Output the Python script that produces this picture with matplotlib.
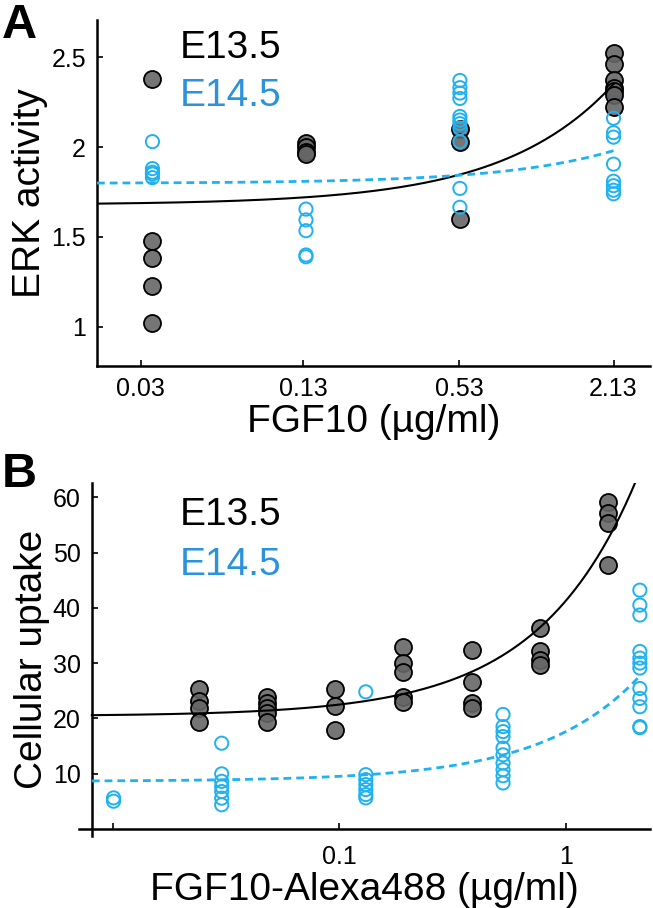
import numpy as np
import matplotlib
matplotlib.use('Agg')
import matplotlib.pyplot as plt

plt.rcParams['font.family'] = ['Liberation Sans', 'DejaVu Sans']

W, H = 653, 908

black_face = (0.4, 0.4, 0.4, 0.9)
blue_mark = '#1fb1f0'
blue_text = '#2b93dc'

# Panel A data: ERK activity vs FGF10 dose
a_doses = [0.0333, 0.133, 0.533, 2.13]
a_ticks = [0.03, 0.13, 0.53, 2.13]
a_e135 = [[2.38, 1.48, 1.385, 1.23, 1.02],
          [2.02, 2.00, 1.97, 1.96],
          [2.10, 2.03, 1.60],
          [2.52, 2.46, 2.37, 2.33, 2.31, 2.29, 2.22]]
a_e145 = [[2.03, 1.88, 1.86, 1.85, 1.83],
          [1.655, 1.595, 1.535, 1.40, 1.39],
          [2.37, 2.33, 2.30, 2.27, 2.17, 2.15, 2.13, 2.105, 2.03, 1.77, 1.665],
          [2.16, 2.08, 2.055, 1.905, 1.81, 1.785, 1.76, 1.74]]
# linear fits (intercept, slope)
a_fit_e135 = (1.679, 0.315)
a_fit_e145 = (1.798, 0.0853)

# Panel B data: cellular uptake vs FGF10-Alexa488 dose
b_doses_e135 = [0.024, 0.048, 0.096, 0.192, 0.384, 0.768, 1.536]
b_e135 = [[25.3, 23.2, 21.8, 19.4],
          [23.9, 22.7, 21.8, 20.9, 19.4],
          [25.3, 22.2, 17.9],
          [33.0, 30.1, 28.3, 23.9, 23.0],
          [32.4, 26.5, 22.7, 21.8],
          [36.3, 32.1, 30.6, 29.7],
          [59.2, 57.1, 55.3, 47.7]]
b_doses_e145 = [0.0101, 0.0303, 0.131, 0.528, 2.12]
b_e145 = [[5.6, 5.0],
          [15.5, 9.95, 8.6, 7.65, 6.75, 5.55, 4.35],
          [24.8, 9.8, 8.9, 8.0, 7.1, 6.2, 5.6],
          [20.7, 18.5, 17.6, 16.7, 14.6, 13.4, 11.9, 10.7, 9.6, 8.3],
          [43.2, 40.5, 38.7, 32.1, 30.9, 30.0, 29.1, 25.4, 23.6, 22.1, 18.5, 18.3]]
b_fit_e135 = (20.4, 20.9)
b_fit_e145 = (8.6, 9.0)


def px_rect(x0, y0, x1, y1):
    return [x0 / W, 1 - y1 / H, (x1 - x0) / W, (y1 - y0) / H]


def style_axes(ax):
    for s in ['top', 'right']:
        ax.spines[s].set_visible(False)
    for s in ['left', 'bottom']:
        ax.spines[s].set_linewidth(1.8)
    ax.tick_params(direction='in', length=4, width=1.2, labelsize=18, pad=8)
    ax.tick_params(which='minor', length=0)


def scatter_groups(ax, doses, groups, black):
    for d, vals in zip(doses, groups):
        xs = [d] * len(vals)
        if black:
            ax.scatter(xs, vals, s=150, facecolor=black_face, edgecolor='k',
                       linewidth=1.3, zorder=3)
        else:
            ax.scatter(xs, vals, s=90, facecolor='none', edgecolor=blue_mark,
                       linewidth=1.4, zorder=4)


fig = plt.figure(figsize=(W / 100, H / 100), dpi=100)

# Panel A
ax1 = fig.add_axes(px_rect(97, 20, 650, 366))
ax1.set_xscale('log')
ax1.set_xlim(0.0202, 2.96)
ax1.set_ylim(0.783, 2.706)
style_axes(ax1)
scatter_groups(ax1, a_doses, a_e135, True)
scatter_groups(ax1, a_doses, a_e145, False)
xf = np.geomspace(0.0202, 2.13, 200)
ax1.plot(xf, a_fit_e135[0] + a_fit_e135[1] * xf, color='k', lw=1.5, zorder=5)
ax1.plot(xf, a_fit_e145[0] + a_fit_e145[1] * xf, color=blue_mark, lw=2,
         ls=(0, (2.8, 1.8)), zorder=5)
ax1.set_xticks(a_ticks, [str(t) for t in a_ticks])
ax1.set_yticks([1, 1.5, 2, 2.5], ['1', '1.5', '2', '2.5'])
ax1.set_xlabel('FGF10 (µg/ml)', fontsize=28, labelpad=2)
ax1.set_ylabel('ERK activity', fontsize=28, labelpad=2)
ax1.text(0.15, 0.89, 'E13.5', transform=ax1.transAxes, fontsize=28, color='k')
ax1.text(0.15, 0.75, 'E14.5', transform=ax1.transAxes, fontsize=28, color=blue_text)

# Panel B
ax2 = fig.add_axes(px_rect(79, 483, 650, 836))
ax2.set_xscale('log')
ax2.set_xlim(0.00711, 2.35)
ax2.set_ylim(-1.3, 62.6)
style_axes(ax2)
ax2.spines['bottom'].set_position(('data', 0))
ax2.spines['left'].set_position(('data', 0.0081))
scatter_groups(ax2, b_doses_e135, b_e135, True)
scatter_groups(ax2, b_doses_e145, b_e145, False)
xb = np.geomspace(0.0081, 2.35, 300)
ax2.plot(xb, b_fit_e135[0] + b_fit_e135[1] * xb, color='k', lw=1.5, zorder=5)
xb2 = np.geomspace(0.0081, 2.13, 300)
ax2.plot(xb2, b_fit_e145[0] + b_fit_e145[1] * xb2, color=blue_mark, lw=2,
         ls=(0, (2.8, 1.8)), zorder=5)
ax2.set_xticks([0.01, 0.1, 1], ['', '0.1', '1'])
ax2.set_yticks([10, 20, 30, 40, 50, 60])
ax2.tick_params(axis='x', pad=12)
ax2.set_xlabel('FGF10-Alexa488 (µg/ml)', fontsize=28, labelpad=2)
ax2.set_ylabel('Cellular uptake', fontsize=28, labelpad=2)
ax2.text(0.177, 0.88, 'E13.5', transform=ax2.transAxes, fontsize=28, color='k')
ax2.text(0.177, 0.74, 'E14.5', transform=ax2.transAxes, fontsize=28, color=blue_text)

fig.text(2 / W, 1 - 3 / H, 'A', fontsize=35, fontweight='bold', va='top', ha='left')
fig.text(2 / W, 1 - 452 / H, 'B', fontsize=35, fontweight='bold', va='top', ha='left')

fig.savefig('out.png', dpi=100)
